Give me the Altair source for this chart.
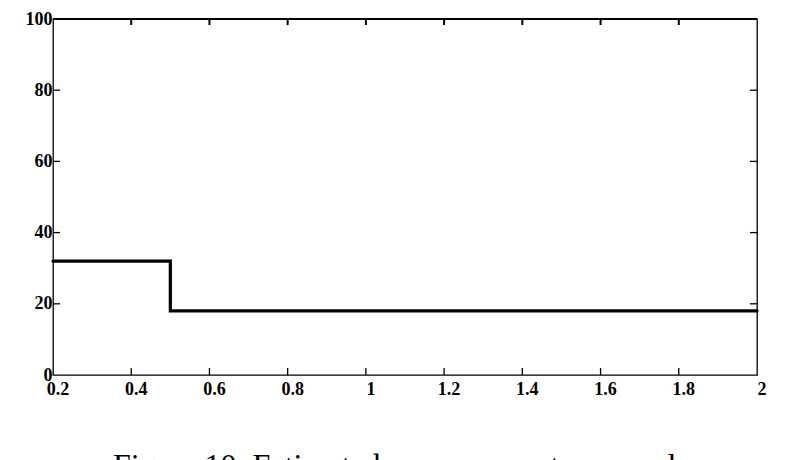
import altair as alt
import pandas as pd

# data
step_x = [0.2, 0.5, 2.0]
step_y = [32, 18, 18]
x_ticks = [0.2, 0.4, 0.6, 0.8, 1.0, 1.2, 1.4, 1.6, 1.8, 2.0]
x_labels = ["0.2", "0.4", "0.6", "0.8", "1", "1.2", "1.4", "1.6", "1.8", "2"]
y_ticks = [0, 20, 40, 60, 80, 100]
inner_x_ticks = [0.4, 0.6, 0.8, 1.0, 1.2, 1.4, 1.6, 1.8]
inner_y_ticks = [20, 40, 60, 80]
caption = "Figure 10. Estimated measurement error values"

W, H = 704, 356
TL = 7
FONT = "Liberation Serif"

line_df = pd.DataFrame({"x": step_x, "y": step_y})
xl_df = pd.DataFrame({"x": x_ticks, "lab": x_labels})
xt_df = pd.DataFrame({"x": inner_x_ticks})
yt_df = pd.DataFrame({"y": inner_y_ticks})
cap_df = pd.DataFrame({"t": [caption]})

xscale = alt.Scale(domain=[0.2, 2.0], nice=False, zero=False)
yscale = alt.Scale(domain=[0, 100], nice=False)

line = alt.Chart(line_df).mark_line(
    interpolate="step-after", color="black", strokeWidth=3.2, strokeCap="round"
).encode(
    x=alt.X("x:Q", scale=xscale, axis=None),
    y=alt.Y("y:Q", scale=yscale, axis=alt.Axis(
        values=y_ticks, title=None, ticks=False, domain=False, grid=False,
        labelPadding=1, labelFlush=False,
        labelFont=FONT, labelFontSize=18, labelFontWeight="bold", labelColor="black")),
)

xlabels = alt.Chart(xl_df).mark_text(
    baseline="top", align="center", dx=5, font=FONT, fontSize=18,
    fontWeight="bold", color="black"
).encode(x=alt.X("x:Q", scale=xscale), y=alt.value(H + 6), text="lab:N")

tick_style = dict(color="black", strokeWidth=1.3)

left_t = alt.Chart(yt_df).mark_rule(**tick_style).encode(
    y=alt.Y("y:Q", scale=yscale), x=alt.value(0), x2=alt.value(TL))
right_t = alt.Chart(yt_df).mark_rule(**tick_style).encode(
    y=alt.Y("y:Q", scale=yscale), x=alt.value(W - TL), x2=alt.value(W))
bottom_t = alt.Chart(xt_df).mark_rule(**tick_style).encode(
    x=alt.X("x:Q", scale=xscale), y=alt.value(H - TL), y2=alt.value(H))
top_t = alt.Chart(xt_df).mark_rule(color="black", strokeWidth=2).encode(
    x=alt.X("x:Q", scale=xscale), y=alt.value(0), y2=alt.value(TL - 1))
top_border = alt.Chart(cap_df).mark_rule(color="black", strokeWidth=2).encode(
    x=alt.value(0), x2=alt.value(W), y=alt.value(0))

cap = alt.Chart(cap_df).mark_text(
    align="left", baseline="alphabetic", font=FONT, fontSize=32, color="black"
).encode(text="t:N", x=alt.value(60), y=alt.value(457))

chart = alt.layer(line, xlabels, left_t, right_t, bottom_t, top_t, top_border, cap).properties(
    width=W, height=H,
    autosize=alt.AutoSizeParams(type="none"),
    padding={"left": 45, "top": 11, "right": 20, "bottom": 106},
).configure_view(stroke="black", strokeWidth=1.3)

chart.save("out.html", embed_options={"renderer": "svg", "actions": False})
